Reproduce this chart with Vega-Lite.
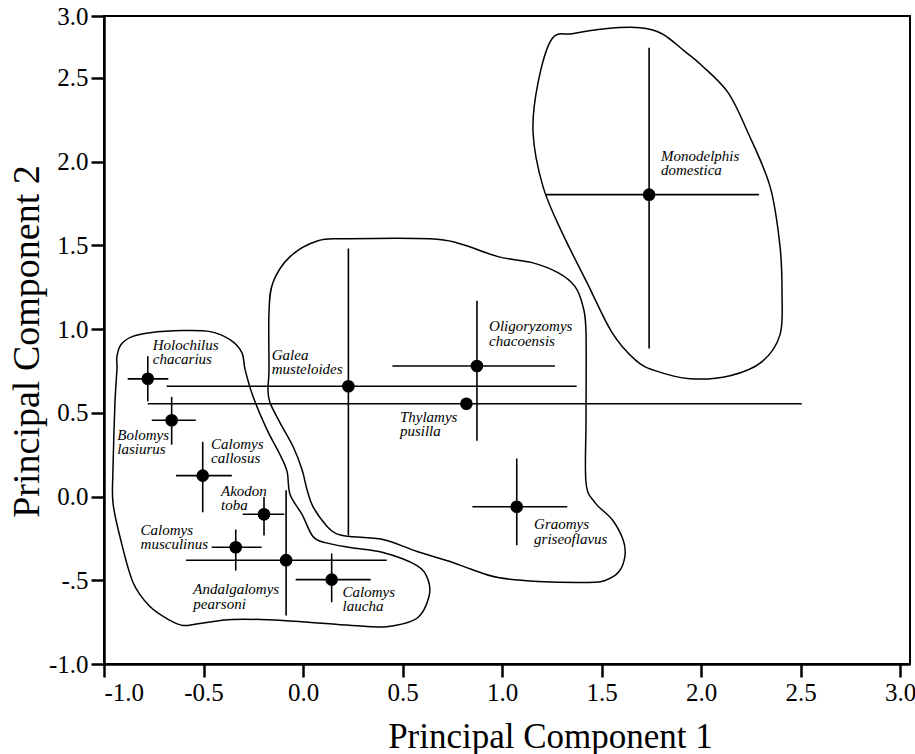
{
  "$schema": "https://vega.github.io/schema/vega-lite/v6.json",
  "width": 806,
  "height": 648,
  "autosize": {"type": "none"},
  "padding": {"left": 104, "top": 16, "right": 5, "bottom": 90},
  "background": "white",
  "config": {
    "font": "Liberation Serif",
    "view": {"stroke": "black", "strokeWidth": 2},
    "text": {"font": "Liberation Serif"},
    "axis": {
      "grid": false,
      "domainColor": "black",
      "domainWidth": 2.5,
      "tickColor": "black",
      "tickWidth": 2.5,
      "tickSize": 13,
      "labelFont": "Liberation Serif",
      "labelFontSize": 25,
      "labelColor": "black",
      "labelPadding": 3,
      "titleFont": "Liberation Serif",
      "titleFontWeight": "normal",
      "titleColor": "black"
    }
  },
  "datasets": {
    "species": [
      {"species": "Monodelphis domestica", "pc1": 1.739, "pc2": 1.803, "x1": 1.221, "x2": 2.291, "y1": 0.884, "y2": 2.681},
      {"species": "Oligoryzomys chacoensis", "pc1": 0.874, "pc2": 0.780, "x1": 0.449, "x2": 1.266, "y1": 0.334, "y2": 1.170},
      {"species": "Galea musteloides", "pc1": 0.228, "pc2": 0.659, "x1": -0.685, "x2": 1.375, "y1": -0.231, "y2": 1.481},
      {"species": "Thylamys pusilla", "pc1": 0.821, "pc2": 0.554, "x1": -0.780, "x2": 2.506, "y1": 0.554, "y2": 0.554},
      {"species": "Holochilus chacarius", "pc1": -0.780, "pc2": 0.703, "x1": -0.881, "x2": -0.677, "y1": 0.569, "y2": 0.838},
      {"species": "Bolomys lasiurus", "pc1": -0.660, "pc2": 0.456, "x1": -0.760, "x2": -0.539, "y1": 0.310, "y2": 0.595},
      {"species": "Calomys callosus", "pc1": -0.504, "pc2": 0.125, "x1": -0.638, "x2": -0.358, "y1": -0.094, "y2": 0.327},
      {"species": "Akodon toba", "pc1": -0.196, "pc2": -0.106, "x1": -0.303, "x2": -0.094, "y1": -0.233, "y2": -0.002},
      {"species": "Calomys musculinus", "pc1": -0.338, "pc2": -0.303, "x1": -0.459, "x2": -0.208, "y1": -0.442, "y2": -0.197},
      {"species": "Andalgalomys pearsoni", "pc1": -0.085, "pc2": -0.380, "x1": -0.588, "x2": 0.421, "y1": -0.710, "y2": 0.038},
      {"species": "Calomys laucha", "pc1": 0.144, "pc2": -0.496, "x1": -0.037, "x2": 0.340, "y1": -0.631, "y2": -0.340},
      {"species": "Graomys griseoflavus", "pc1": 1.074, "pc2": -0.061, "x1": 0.851, "x2": 1.328, "y1": -0.291, "y2": 0.227}
    ],
    "labels": [
      {"label": "Monodelphis\ndomestica", "lx": 1.799, "ly": 2.078},
      {"label": "Oligoryzomys\nchacoensis", "lx": 0.935, "ly": 1.058},
      {"label": "Galea\nmusteloides", "lx": -0.157, "ly": 0.890},
      {"label": "Thylamys\npusilla", "lx": 0.487, "ly": 0.519},
      {"label": "Holochilus\nchacarius", "lx": -0.755, "ly": 0.949},
      {"label": "Bolomys\nlasiurus", "lx": -0.933, "ly": 0.410},
      {"label": "Calomys\ncallosus", "lx": -0.462, "ly": 0.358},
      {"label": "Akodon\ntoba", "lx": -0.412, "ly": 0.076},
      {"label": "Calomys\nmusculinus", "lx": -0.816, "ly": -0.157},
      {"label": "Andalgalomys\npearsoni", "lx": -0.551, "ly": -0.512},
      {"label": "Calomys\nlaucha", "lx": 0.199, "ly": -0.527},
      {"label": "Graomys\ngriseoflavus", "lx": 1.161, "ly": -0.124}
    ],
    "hulls": [
      {"g": "A", "o": 1, "hx": 1.251, "hy": 2.734},
      {"g": "A", "o": 2, "hx": 1.352, "hy": 2.764},
      {"g": "A", "o": 3, "hx": 1.518, "hy": 2.794},
      {"g": "A", "o": 4, "hx": 1.693, "hy": 2.800},
      {"g": "A", "o": 5, "hx": 1.804, "hy": 2.764},
      {"g": "A", "o": 6, "hx": 1.920, "hy": 2.657},
      {"g": "A", "o": 7, "hx": 2.005, "hy": 2.573},
      {"g": "A", "o": 8, "hx": 2.136, "hy": 2.412},
      {"g": "A", "o": 9, "hx": 2.236, "hy": 2.173},
      {"g": "A", "o": 10, "hx": 2.347, "hy": 1.851},
      {"g": "A", "o": 11, "hx": 2.397, "hy": 1.493},
      {"g": "A", "o": 12, "hx": 2.407, "hy": 1.206},
      {"g": "A", "o": 13, "hx": 2.397, "hy": 0.967},
      {"g": "A", "o": 14, "hx": 2.307, "hy": 0.806},
      {"g": "A", "o": 15, "hx": 2.146, "hy": 0.722},
      {"g": "A", "o": 16, "hx": 1.945, "hy": 0.704},
      {"g": "A", "o": 17, "hx": 1.769, "hy": 0.752},
      {"g": "A", "o": 18, "hx": 1.668, "hy": 0.818},
      {"g": "A", "o": 19, "hx": 1.553, "hy": 0.979},
      {"g": "A", "o": 20, "hx": 1.427, "hy": 1.278},
      {"g": "A", "o": 21, "hx": 1.302, "hy": 1.576},
      {"g": "A", "o": 22, "hx": 1.206, "hy": 1.851},
      {"g": "A", "o": 23, "hx": 1.156, "hy": 2.173},
      {"g": "A", "o": 24, "hx": 1.181, "hy": 2.472},
      {"g": "B", "o": 1, "hx": -0.171, "hy": 0.758},
      {"g": "B", "o": 2, "hx": -0.171, "hy": 1.099},
      {"g": "B", "o": 3, "hx": -0.151, "hy": 1.278},
      {"g": "B", "o": 4, "hx": -0.065, "hy": 1.433},
      {"g": "B", "o": 5, "hx": 0.075, "hy": 1.528},
      {"g": "B", "o": 6, "hx": 0.221, "hy": 1.540},
      {"g": "B", "o": 7, "hx": 0.638, "hy": 1.540},
      {"g": "B", "o": 8, "hx": 0.789, "hy": 1.510},
      {"g": "B", "o": 9, "hx": 0.980, "hy": 1.433},
      {"g": "B", "o": 10, "hx": 1.151, "hy": 1.397},
      {"g": "B", "o": 11, "hx": 1.281, "hy": 1.337},
      {"g": "B", "o": 12, "hx": 1.367, "hy": 1.254},
      {"g": "B", "o": 13, "hx": 1.407, "hy": 1.134},
      {"g": "B", "o": 14, "hx": 1.422, "hy": 0.979},
      {"g": "B", "o": 15, "hx": 1.422, "hy": 0.460},
      {"g": "B", "o": 16, "hx": 1.422, "hy": 0.084},
      {"g": "B", "o": 17, "hx": 1.467, "hy": -0.036},
      {"g": "B", "o": 18, "hx": 1.553, "hy": -0.137},
      {"g": "B", "o": 19, "hx": 1.608, "hy": -0.257},
      {"g": "B", "o": 20, "hx": 1.618, "hy": -0.352},
      {"g": "B", "o": 21, "hx": 1.588, "hy": -0.448},
      {"g": "B", "o": 22, "hx": 1.518, "hy": -0.501},
      {"g": "B", "o": 23, "hx": 1.432, "hy": -0.513},
      {"g": "B", "o": 24, "hx": 1.181, "hy": -0.507},
      {"g": "B", "o": 25, "hx": 0.980, "hy": -0.484},
      {"g": "B", "o": 26, "hx": 0.849, "hy": -0.436},
      {"g": "B", "o": 27, "hx": 0.739, "hy": -0.388},
      {"g": "B", "o": 28, "hx": 0.573, "hy": -0.328},
      {"g": "B", "o": 29, "hx": 0.402, "hy": -0.257},
      {"g": "B", "o": 30, "hx": 0.236, "hy": -0.239},
      {"g": "B", "o": 31, "hx": 0.166, "hy": -0.221},
      {"g": "B", "o": 32, "hx": 0.121, "hy": -0.179},
      {"g": "B", "o": 33, "hx": 0.050, "hy": -0.060},
      {"g": "B", "o": 34, "hx": 0.020, "hy": 0.042},
      {"g": "B", "o": 35, "hx": -0.005, "hy": 0.161},
      {"g": "B", "o": 36, "hx": -0.050, "hy": 0.299},
      {"g": "B", "o": 37, "hx": -0.116, "hy": 0.442},
      {"g": "B", "o": 38, "hx": -0.166, "hy": 0.561},
      {"g": "B", "o": 39, "hx": -0.176, "hy": 0.639},
      {"g": "C", "o": 1, "hx": -0.935, "hy": 0.836},
      {"g": "C", "o": 2, "hx": -0.915, "hy": 0.907},
      {"g": "C", "o": 3, "hx": -0.859, "hy": 0.955},
      {"g": "C", "o": 4, "hx": -0.769, "hy": 0.979},
      {"g": "C", "o": 5, "hx": -0.603, "hy": 0.991},
      {"g": "C", "o": 6, "hx": -0.467, "hy": 0.985},
      {"g": "C", "o": 7, "hx": -0.367, "hy": 0.937},
      {"g": "C", "o": 8, "hx": -0.307, "hy": 0.860},
      {"g": "C", "o": 9, "hx": -0.291, "hy": 0.758},
      {"g": "C", "o": 10, "hx": -0.251, "hy": 0.597},
      {"g": "C", "o": 11, "hx": -0.181, "hy": 0.400},
      {"g": "C", "o": 12, "hx": -0.116, "hy": 0.251},
      {"g": "C", "o": 13, "hx": -0.080, "hy": 0.149},
      {"g": "C", "o": 14, "hx": -0.065, "hy": 0.012},
      {"g": "C", "o": 15, "hx": -0.005, "hy": -0.107},
      {"g": "C", "o": 16, "hx": 0.050, "hy": -0.239},
      {"g": "C", "o": 17, "hx": 0.111, "hy": -0.275},
      {"g": "C", "o": 18, "hx": 0.236, "hy": -0.304},
      {"g": "C", "o": 19, "hx": 0.402, "hy": -0.334},
      {"g": "C", "o": 20, "hx": 0.573, "hy": -0.412},
      {"g": "C", "o": 21, "hx": 0.628, "hy": -0.496},
      {"g": "C", "o": 22, "hx": 0.633, "hy": -0.597},
      {"g": "C", "o": 23, "hx": 0.578, "hy": -0.722},
      {"g": "C", "o": 24, "hx": 0.462, "hy": -0.770},
      {"g": "C", "o": 25, "hx": 0.322, "hy": -0.776},
      {"g": "C", "o": 26, "hx": -0.101, "hy": -0.740},
      {"g": "C", "o": 27, "hx": -0.352, "hy": -0.734},
      {"g": "C", "o": 28, "hx": -0.518, "hy": -0.758},
      {"g": "C", "o": 29, "hx": -0.603, "hy": -0.770},
      {"g": "C", "o": 30, "hx": -0.668, "hy": -0.740},
      {"g": "C", "o": 31, "hx": -0.769, "hy": -0.657},
      {"g": "C", "o": 32, "hx": -0.854, "hy": -0.513},
      {"g": "C", "o": 33, "hx": -0.920, "hy": -0.239},
      {"g": "C", "o": 34, "hx": -0.955, "hy": -0.036},
      {"g": "C", "o": 35, "hx": -0.955, "hy": 0.161},
      {"g": "C", "o": 36, "hx": -0.945, "hy": 0.561},
      {"g": "C", "o": 37, "hx": -0.935, "hy": 0.758}
    ]
  },
  "layer": [
    {
      "data": {"name": "hulls"},
      "mark": {"type": "line", "interpolate": "cardinal-closed", "color": "black", "strokeWidth": 1.5},
      "encoding": {
        "x": {
          "field": "hx", "type": "quantitative",
          "scale": {"domain": [-1, 3.05], "nice": false, "zero": false},
          "title": "Principal Component 1",
          "axis": {
            "values": [-1, -0.5, 0, 0.5, 1, 1.5, 2, 2.5, 3],
            "labelExpr": "(datum.value < 0 ? '-' : '') + format(abs(datum.value), '.1f')",
            "labelFont": "Liberation Serif",
            "titleFontSize": 35,
            "titleX": 446,
            "titleY": 83,
            "titleAlign": "center",
            "titleBaseline": "alphabetic"
          }
        },
        "y": {
          "field": "hy", "type": "quantitative",
          "scale": {"domain": [-1, 2.87], "nice": false, "zero": false},
          "title": "Principal Component 2",
          "axis": {
            "values": [-1, -0.5, 0, 0.5, 1, 1.5, 2, 2.5, 2.87],
            "labelExpr": "datum.value > 2.8 ? '3.0' : (datum.value == -0.5 ? '-.5' : (datum.value < 0 ? '-' : '') + format(abs(datum.value), '.1f'))",
            "labelFont": "Liberation Serif",
            "titleFontSize": 38,
            "titleX": -66,
            "titleY": 325,
            "titleAngle": -90,
            "titleAlign": "center",
            "titleBaseline": "alphabetic"
          }
        },
        "detail": {"field": "g", "type": "nominal"},
        "order": {"field": "o", "type": "quantitative"}
      }
    },
    {
      "data": {"name": "species"},
      "mark": {"type": "rule", "color": "black", "strokeWidth": 1.6},
      "encoding": {
        "x": {"field": "x1", "type": "quantitative", "title": "Principal Component 1"},
        "x2": {"field": "x2"},
        "y": {"field": "pc2", "type": "quantitative", "title": "Principal Component 2"}
      }
    },
    {
      "data": {"name": "species"},
      "mark": {"type": "rule", "color": "black", "strokeWidth": 1.6},
      "encoding": {
        "x": {"field": "pc1", "type": "quantitative", "title": "Principal Component 1"},
        "y": {"field": "y1", "type": "quantitative", "title": "Principal Component 2"},
        "y2": {"field": "y2"}
      }
    },
    {
      "data": {"name": "species"},
      "mark": {"type": "circle", "color": "black", "opacity": 1, "size": 160},
      "encoding": {
        "x": {"field": "pc1", "type": "quantitative", "title": "Principal Component 1"},
        "y": {"field": "pc2", "type": "quantitative", "title": "Principal Component 2"}
      }
    },
    {
      "data": {"name": "labels"},
      "mark": {"type": "text", "font": "Liberation Serif", "fontStyle": "italic", "fontSize": 15, "lineHeight": 14.5, "lineBreak": "\n", "align": "left", "baseline": "top", "color": "black"},
      "encoding": {
        "x": {"field": "lx", "type": "quantitative", "title": "Principal Component 1"},
        "y": {"field": "ly", "type": "quantitative", "title": "Principal Component 2"},
        "text": {"field": "label", "type": "nominal"}
      }
    }
  ]
}
